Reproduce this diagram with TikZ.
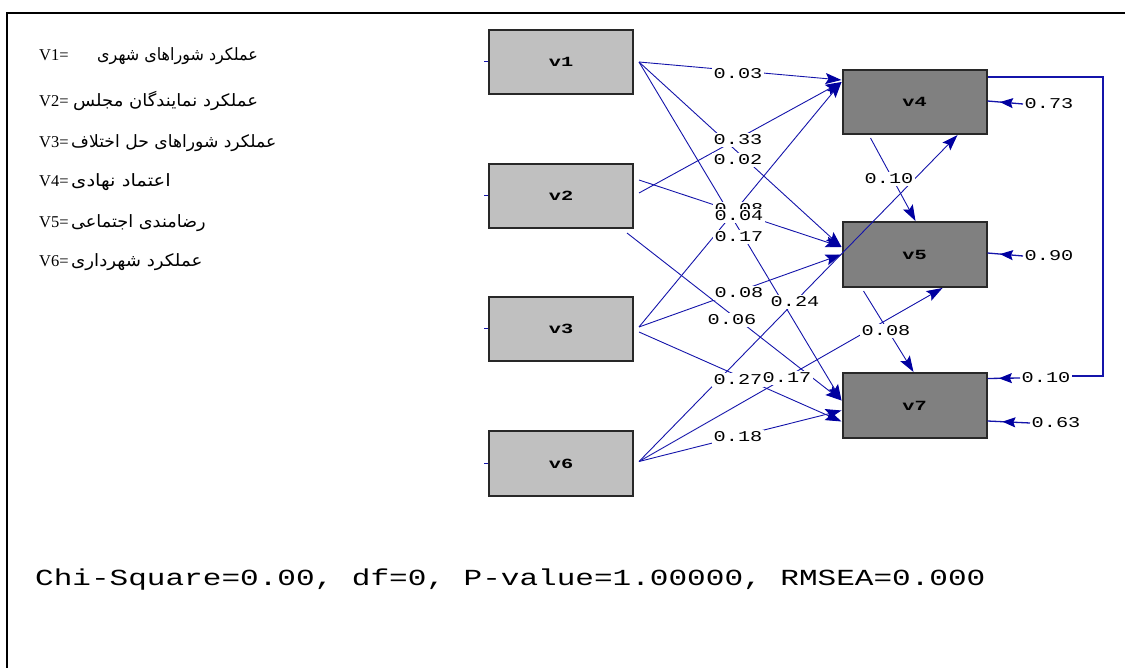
\documentclass[tikz,border=0pt]{standalone}
\usepackage{fontspec}
\usepackage{graphicx}
\usetikzlibrary{arrows.meta,decorations.markings,calc}
\setmainfont{Liberation Serif}
\newfontfamily\monof{Liberation Mono}
\newfontfamily\fa[Script=Arabic]{DejaVu Sans}
\TeXXeTstate=1
\definecolor{lisblue}{RGB}{20,20,170}
\definecolor{headblue}{RGB}{0,0,160}
\definecolor{inbg}{RGB}{192,192,192}
\definecolor{outbg}{RGB}{128,128,128}
\definecolor{edge}{RGB}{40,40,40}
\newcommand\cf[1]{\scalebox{1.35}[1]{#1}}
\newcommand\bx[1]{\scalebox{1.45}[1]{\bfseries #1}}
\tikzset{
  inbox/.style={draw=edge, line width=2pt, fill=inbg, minimum width=144pt, minimum height=64pt, inner sep=0pt, font=\monof\fontsize{14}{14}\selectfont},
  outbox/.style={inbox, fill=outbg},
  pth/.style={draw=lisblue, line width=0.9pt, -{Stealth[length=16pt,width=11pt,inset=3pt,color=headblue]}},
  coef/.style={fill=white, inner sep=1.5pt, font=\monof\fontsize{15}{15}\selectfont},
  errarr/.style={draw=lisblue, line width=1.3pt, postaction={decorate},
    decoration={markings, mark=at position 0.65 with {\arrow[headblue]{Stealth[length=13pt,width=10pt,inset=2pt]}}}},
  tick/.style={draw=lisblue, line width=1pt},
  lat/.style={anchor=base west, font=\fontsize{16.5}{16.5}\selectfont, inner sep=0pt},
  per/.style={anchor=base west, font=\fa\fontsize{17}{17}\selectfont, inner sep=0pt},
}
\begin{document}
\begin{tikzpicture}[x=1pt,y=-1pt]
\useasboundingbox (0,0) rectangle (1125,668);
\draw[line width=2pt] (1125,13) -- (7,13) -- (7,668);

% legend
\node[lat] (t1) at (39,61) {V1=};
\node[per] (p1) at (97,61) {\scalebox{0.94}[1]{\beginR عملکرد شوراهای شهری\endR}};
\node[lat] (t2) at (39,107) {V2=};
\node[per] (p2) at (73,107) {\scalebox{1.06}[1]{\beginR عملکرد نمایندگان مجلس\endR}};
\node[lat] (t3) at (39,148) {V3=};
\node[per] (p3) at (71,148) {\scalebox{1.01}[1]{\beginR عملکرد شوراهای حل اختلاف\endR}};
\node[lat] (t4) at (39,187) {V4=};
\node[per] (p4) at (71,187) {\scalebox{1.15}[1]{\beginR اعتماد نهادی\endR}};
\node[lat] (t5) at (39,228) {V5=};
\node[per] (p5) at (71,228) {\scalebox{1.04}[1]{\beginR رضامندی اجتماعی\endR}};
\node[lat] (t6) at (39,267) {V6=};
\node[per] (p6) at (71,267) {\scalebox{1.07}[1]{\beginR عملکرد شهرداری\endR}};

% boxes
\node[inbox] (v1) at (561,62) {\bx{v1}};
\node[inbox] (v2) at (561,196) {\bx{v2}};
\node[inbox] (v3) at (561,329) {\bx{v3}};
\node[inbox, minimum height=65pt] (v6) at (561,463.5) {\bx{v6}};
\node[outbox] (v4) at (914.5,102) {\bx{v4}};
\node[outbox, minimum height=65pt] (v5) at (914.5,254.5) {\bx{v5}};
\node[outbox, minimum height=65pt] (v7) at (914.5,405.5) {\bx{v7}};

\foreach \b in {v1,v2,v3,v6} \draw[tick] ([xshift=-4pt]\b.west) -- (\b.west);

% paths
\draw[pth] ([xshift=5pt]v1.east) -- ([yshift=-11pt]v4.north west);
\draw[pth] ([xshift=5pt]v1.east) -- ([yshift=-26pt]v5.north west);
\draw[pth] ([xshift=5pt]v1.east) -- ([yshift=5pt]v7.west);
\draw[pth] ([xshift=5pt,yshift=3pt]v2.east) -- ([yshift=-13pt]v4.north west);
\draw[pth] ([xshift=5pt,yshift=16pt]v2.east) -- ([yshift=-26pt]v5.north west);
\draw[pth] ([xshift=-7pt,yshift=-4pt]v2.south east) -- ([yshift=5pt]v7.west);
\draw[pth] ([xshift=5pt,yshift=2pt]v3.east) -- ([yshift=-13pt]v4.north west);
\draw[pth] ([xshift=5pt,yshift=2pt]v3.east) -- ([yshift=0pt]v5.west);
\draw[pth] ([xshift=5pt,yshift=-3pt]v3.east) -- ([yshift=-16pt]v7.west);
\draw[pth] ([xshift=5pt,yshift=2pt]v6.east) -- ([xshift=43pt]v4.south);
\draw[pth] ([xshift=5pt,yshift=2pt]v6.east) -- ([xshift=28pt]v5.south);
\draw[pth] ([xshift=5pt,yshift=2pt]v6.east) -- ([yshift=-5pt]v7.west);
\draw[pth] ([xshift=-44pt,yshift=-3pt]v4.south) -- ([xshift=1pt]v5.north);
\draw[pth] ([xshift=-51pt,yshift=-3pt]v5.south) -- ([xshift=-1pt]v7.north);

% coefficient labels
\node[coef] (c08h) at (739,209) {\cf{0.08}};
\node[coef] (c1) at (738,74) {\cf{0.03}};
\node[coef] (c2) at (738,140) {\cf{0.33}};
\node[coef] (c3) at (738,160) {\cf{0.02}};
\node[coef] (c4) at (739,216) {\cf{0.04}};
\node[coef] (c5) at (739,237) {\cf{0.17}};
\node[coef] (c6) at (739,293) {\cf{0.08}};
\node[coef] (c7) at (732,320) {\cf{0.06}};
\node[coef] (c8) at (795,302) {\cf{0.24}};
\node[coef] (c9) at (738,380) {\cf{0.27}};
\node[coef] (c10) at (787,378) {\cf{0.17}};
\node[coef] (c11) at (738,437) {\cf{0.18}};
\node[coef] (c12) at (889,179) {\cf{0.10}};
\node[coef] (c13) at (886,331) {\cf{0.08}};

% error terms
\node[coef] (e4) at (1049,104) {\cf{0.73}};
\node[coef] (e5) at (1049,256) {\cf{0.90}};
\node[coef] (e7) at (1056,423) {\cf{0.63}};
\node[coef] (e10) at (1046,378) {\cf{0.10}};
\draw[errarr] (e4.west) -- ([yshift=1pt]v4.east);
\draw[errarr] (e5.west) -- ([yshift=1.5pt]v5.east);
\draw[errarr] (e7.west) -- ([yshift=-15.5pt]v7.east);
\draw[errarr] (e10.west) -- ([yshift=27pt]v7.east);
\coordinate (fb) at (1103,376);
\draw[draw=lisblue, line width=1.2pt] ([yshift=-8pt]v4.north east) -| (fb) -- (fb -| e10.east);

% fit statistics
\node[anchor=west, inner sep=0pt, font=\monof\fontsize{23}{23}\selectfont] (chi) at (35,580) {\scalebox{1.35}[1]{Chi-Square=0.00, df=0, P-value=1.00000, RMSEA=0.000}};
\end{tikzpicture}
\end{document}
